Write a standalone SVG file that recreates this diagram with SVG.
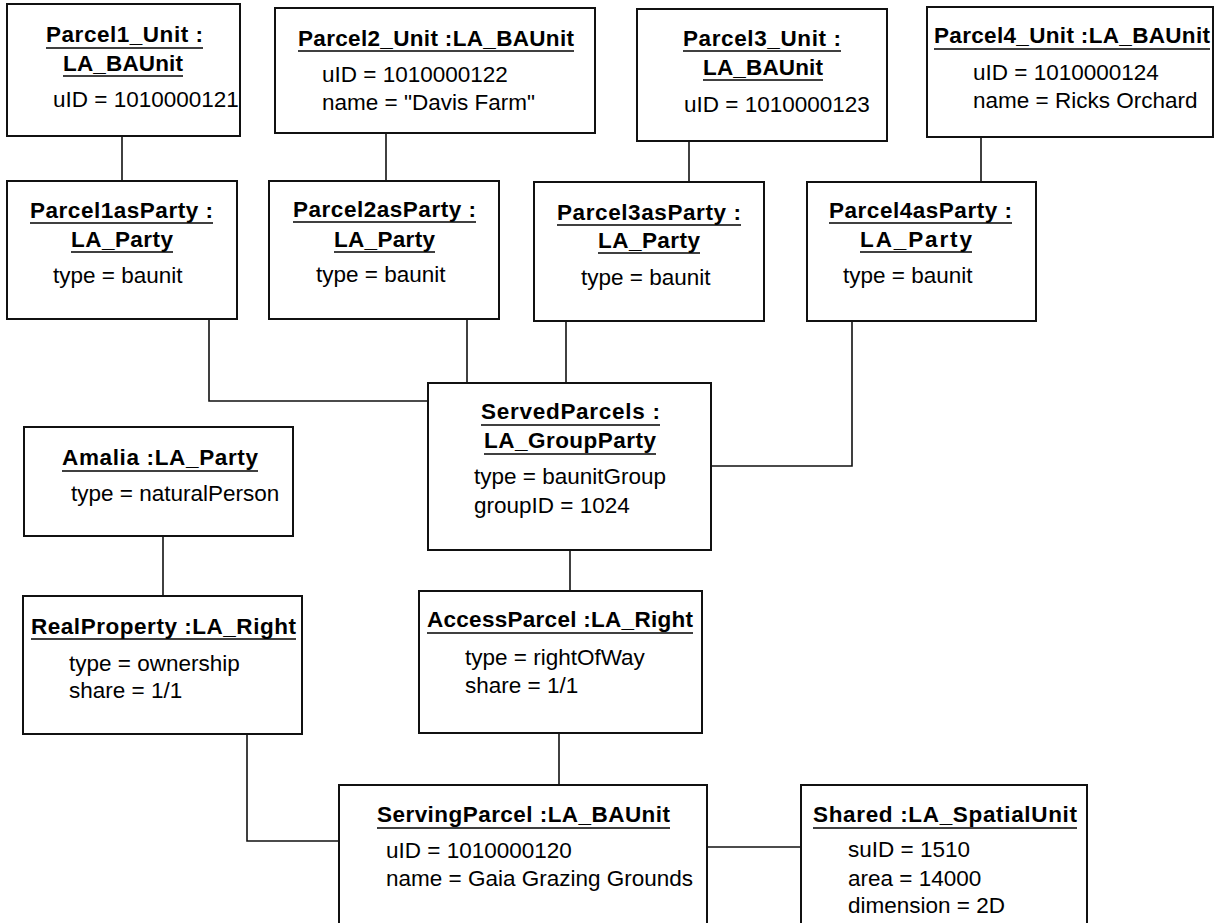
<svg xmlns="http://www.w3.org/2000/svg" width="1214" height="923" viewBox="0 0 1214 923">
<style>
.box{fill:#fff;stroke:#111;stroke-width:2}
.t{font-family:"Liberation Sans",Arial,sans-serif;font-size:22.5px;font-weight:bold;fill:#000}
.a{font-family:"Liberation Sans",Arial,sans-serif;font-size:22.5px;fill:#000}
.ul{stroke:#000;stroke-width:1.6}
.c{fill:none;stroke:#111;stroke-width:1.6}
</style>
<rect width="1214" height="923" fill="#fff"/>
<g id="connectors">
<path class="c" d="M122,136 V181"/>
<path class="c" d="M386,133 V181"/>
<path class="c" d="M689,141 V182"/>
<path class="c" d="M981,137 V182"/>
<path class="c" d="M209,319 V401 H428"/>
<path class="c" d="M467,319 V383"/>
<path class="c" d="M566,321 V383"/>
<path class="c" d="M852,321 V466 H711"/>
<path class="c" d="M163,536 V596"/>
<path class="c" d="M570,550 V591"/>
<path class="c" d="M559,733 V785"/>
<path class="c" d="M247,734 V841 H339"/>
<path class="c" d="M707,847 H801"/>
</g>
<g id="parcel1_unit">
<rect class="box" x="7" y="4" width="233" height="132"/>
<text class="t" x="46" y="42" textLength="157" lengthAdjust="spacing">Parcel1_Unit :</text>
<line class="ul" x1="46" y1="48" x2="203" y2="48"/>
<text class="t" x="63" y="71" textLength="120" lengthAdjust="spacing">LA_BAUnit</text>
<line class="ul" x1="63" y1="76" x2="183" y2="76"/>
<text class="a" x="53" y="107">uID = 1010000121</text>
</g>
<g id="parcel2_unit">
<rect class="box" x="275" y="8" width="320" height="125"/>
<text class="t" x="298" y="46" textLength="276" lengthAdjust="spacing">Parcel2_Unit :LA_BAUnit</text>
<line class="ul" x1="298" y1="51" x2="574" y2="51"/>
<text class="a" x="322" y="82">uID = 1010000122</text>
<text class="a" x="322" y="110">name = "Davis Farm"</text>
</g>
<g id="parcel3_unit">
<rect class="box" x="637" y="9" width="250" height="132"/>
<text class="t" x="683" y="46" textLength="158" lengthAdjust="spacing">Parcel3_Unit :</text>
<line class="ul" x1="683" y1="51" x2="841" y2="51"/>
<text class="t" x="703" y="75" textLength="120" lengthAdjust="spacing">LA_BAUnit</text>
<line class="ul" x1="703" y1="80" x2="823" y2="80"/>
<text class="a" x="684" y="112">uID = 1010000123</text>
</g>
<g id="parcel4_unit">
<rect class="box" x="927" y="7" width="286" height="130"/>
<text class="t" x="934" y="43" textLength="276" lengthAdjust="spacing">Parcel4_Unit :LA_BAUnit</text>
<line class="ul" x1="934" y1="49" x2="1210" y2="49"/>
<text class="a" x="973" y="80">uID = 1010000124</text>
<text class="a" x="973" y="108">name = Ricks Orchard</text>
</g>
<g id="parcel1asparty">
<rect class="box" x="7" y="181" width="230" height="138"/>
<text class="t" x="30" y="218" textLength="183" lengthAdjust="spacing">Parcel1asParty :</text>
<line class="ul" x1="30" y1="223" x2="213" y2="223"/>
<text class="t" x="71" y="247" textLength="102" lengthAdjust="spacing">LA_Party</text>
<line class="ul" x1="71" y1="252" x2="173" y2="252"/>
<text class="a" x="53" y="283">type = baunit</text>
</g>
<g id="parcel2asparty">
<rect class="box" x="269" y="181" width="230" height="138"/>
<text class="t" x="293" y="217" textLength="183" lengthAdjust="spacing">Parcel2asParty :</text>
<line class="ul" x1="293" y1="222" x2="476" y2="222"/>
<text class="t" x="334" y="247" textLength="101" lengthAdjust="spacing">LA_Party</text>
<line class="ul" x1="334" y1="252" x2="435" y2="252"/>
<text class="a" x="316" y="282">type = baunit</text>
</g>
<g id="parcel3asparty">
<rect class="box" x="534" y="182" width="230" height="139"/>
<text class="t" x="557" y="220" textLength="184" lengthAdjust="spacing">Parcel3asParty :</text>
<line class="ul" x1="557" y1="225" x2="741" y2="225"/>
<text class="t" x="598" y="248" textLength="102" lengthAdjust="spacing">LA_Party</text>
<line class="ul" x1="598" y1="253" x2="700" y2="253"/>
<text class="a" x="581" y="285">type = baunit</text>
</g>
<g id="parcel4asparty">
<rect class="box" x="807" y="182" width="229" height="139"/>
<text class="t" x="829" y="218" textLength="183" lengthAdjust="spacing">Parcel4asParty :</text>
<line class="ul" x1="829" y1="223" x2="1012" y2="223"/>
<text class="t" x="860" y="247" textLength="112" lengthAdjust="spacing">LA_Party</text>
<line class="ul" x1="860" y1="252" x2="972" y2="252"/>
<text class="a" x="843" y="283">type = baunit</text>
</g>
<g id="servedparcels">
<rect class="box" x="428" y="383" width="283" height="167"/>
<text class="t" x="481" y="419" textLength="179" lengthAdjust="spacing">ServedParcels :</text>
<line class="ul" x1="481" y1="425" x2="660" y2="425"/>
<text class="t" x="484" y="448" textLength="172" lengthAdjust="spacing">LA_GroupParty</text>
<line class="ul" x1="484" y1="454" x2="656" y2="454"/>
<text class="a" x="474" y="484">type = baunitGroup</text>
<text class="a" x="474" y="513">groupID = 1024</text>
</g>
<g id="amalia">
<rect class="box" x="24" y="427" width="269" height="109"/>
<text class="t" x="62" y="465" textLength="196" lengthAdjust="spacing">Amalia :LA_Party</text>
<line class="ul" x1="62" y1="471" x2="258" y2="471"/>
<text class="a" x="71" y="501">type = naturalPerson</text>
</g>
<g id="realproperty">
<rect class="box" x="23" y="596" width="279" height="138"/>
<text class="t" x="31" y="634" textLength="265" lengthAdjust="spacing">RealProperty :LA_Right</text>
<line class="ul" x1="31" y1="639" x2="296" y2="639"/>
<text class="a" x="69" y="671">type = ownership</text>
<text class="a" x="69" y="698">share = 1/1</text>
</g>
<g id="accessparcel">
<rect class="box" x="419" y="591" width="283" height="142"/>
<text class="t" x="427" y="627" textLength="266" lengthAdjust="spacing">AccessParcel :LA_Right</text>
<line class="ul" x1="427" y1="633" x2="693" y2="633"/>
<text class="a" x="465" y="665">type = rightOfWay</text>
<text class="a" x="465" y="693">share = 1/1</text>
</g>
<g id="servingparcel">
<rect class="box" x="339" y="785" width="368" height="150"/>
<text class="t" x="377" y="822" textLength="293" lengthAdjust="spacing">ServingParcel :LA_BAUnit</text>
<line class="ul" x1="377" y1="828" x2="670" y2="828"/>
<text class="a" x="386" y="858">uID = 1010000120</text>
<text class="a" x="386" y="886">name = Gaia Grazing Grounds</text>
</g>
<g id="shared">
<rect class="box" x="801" y="785" width="286" height="150"/>
<text class="t" x="813" y="822" textLength="264" lengthAdjust="spacing">Shared :LA_SpatialUnit</text>
<line class="ul" x1="813" y1="828" x2="1077" y2="828"/>
<text class="a" x="848" y="857">suID = 1510</text>
<text class="a" x="848" y="886">area = 14000</text>
<text class="a" x="848" y="913">dimension = 2D</text>
</g>
</svg>
